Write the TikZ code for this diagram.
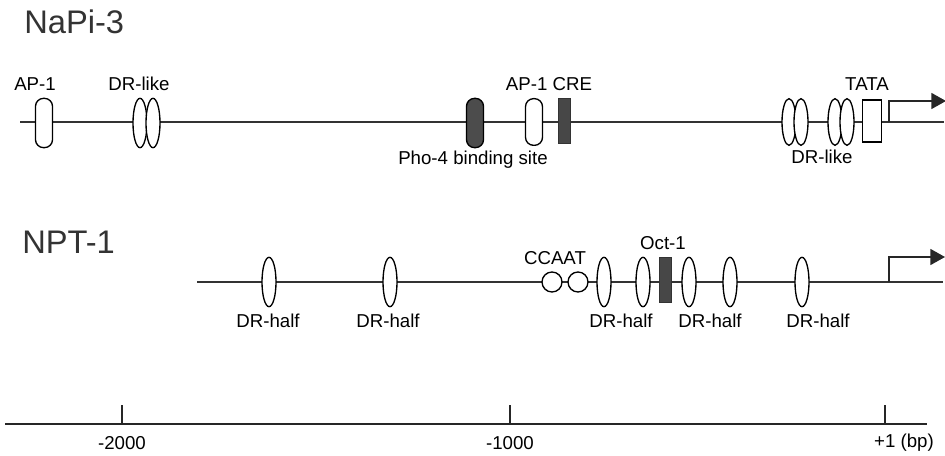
\documentclass[tikz,border=0pt]{standalone}
\usepackage{fontspec}
\setmainfont{Liberation Sans}
\usetikzlibrary{arrows.meta}
\usetikzlibrary{shapes.geometric}

\begin{document}
\begin{tikzpicture}[
        x=0.75pt, y=-0.75pt,
        >=Latex,
        every node/.style={font=\fontsize{14}{16}\selectfont, inner sep=0pt},
        genename/.style={font=\fontsize{24.5}{28}\selectfont, anchor=west, text=black!80},
        dna/.style={draw=black!80, line width=1.5pt},
        roundsite/.style={
            draw=black, line width=1pt, fill=white,
            rectangle, rounded corners=6pt,
            minimum width=12.75pt, minimum height=37pt
        },
        phosite/.style={roundsite, fill=black!70},
        boxsite/.style={
            draw=black!80, line width=0.6pt, fill=black!72,
            rectangle, minimum width=9pt, minimum height=34pt
        },
        drsite/.style={
            draw=black, line width=1pt, fill=white,
            ellipse, minimum width=10.5pt, minimum height=37pt
        },
        ccaatsite/.style={
            draw=black, line width=1pt, fill=white,
            circle, minimum size=15pt
        },
        tatasite/.style={
            draw=black, line width=1pt, fill=white,
            rectangle, minimum width=14pt, minimum height=31.5pt
        },
        tss/.style={
            draw=black!85, line width=1.2pt,
            -{Triangle[length=11pt,width=12pt]}
        },
        ruler/.style={draw=black!85, line width=1.2pt}
    ]

    \useasboundingbox (0,0) rectangle (945,456);

    % NaPi-3
    \node[genename] (napi) at (24,22) {NaPi-3};

    \coordinate (NaL) at (20,122);
    \coordinate (NaR) at (944,122);
    \coordinate (NaT) at (889,122);
    \coordinate (NaH) at (889,101);
    \coordinate (NaE) at (946,101);
    \draw[dna] (NaL) -- (NaR);
    \draw[tss] (NaT) -- (NaH) -- (NaE);

    \node[roundsite] (apA) at (44,123) {};
    \node[drsite] (drA1) at (140,123) {};
    \node[drsite] (drA2) at (153,123) {};
    \node[phosite] (pho) at (475,123) {};
    \node[roundsite, minimum height=35pt] (apB) at (534,122) {};
    \node[boxsite] (cre) at (564,121) {};
    \node[drsite, minimum height=35pt] (drB1) at (789,122) {};
    \node[drsite, minimum height=35pt] (drB2) at (801,122) {};
    \node[drsite, minimum height=35pt] (drC1) at (835,122) {};
    \node[drsite, minimum height=35pt] (drC2) at (847,122) {};
    \node[tatasite] (tata) at (872,121) {};

    \node (lapA) at (35,84) {AP-1};
    \node (ldrA) at (139,84) {DR-like};
    \node (lapB) at (549,84) {AP-1 CRE};
    \node (lpho) at (473,160) {Pho-4 binding site};
    \node (ltata) at (867,84) {TATA};
    \node (ldrB) at (822,157) {DR-like};

    % NPT-1
    \node[genename] (npt) at (22,242) {NPT-1};

    \coordinate (NpL) at (197,282);
    \coordinate (NpR) at (943,282);
    \coordinate (NpT) at (889,282);
    \coordinate (NpH) at (889,257);
    \coordinate (NpE) at (945,257);
    \draw[dna] (NpL) -- (NpR);
    \draw[tss] (NpT) -- (NpH) -- (NpE);

    \node[drsite] (dh1) at (269,282) {};
    \node[drsite] (dh2) at (390,282) {};
    \node[ccaatsite] (cc1) at (552,282) {};
    \node[ccaatsite] (cc2) at (578,282) {};
    \node[drsite] (dh3) at (604,282) {};
    \node[drsite] (dh4) at (643,282) {};
    \node[boxsite] (oct) at (665,280) {};
    \node[drsite] (dh5) at (689,282) {};
    \node[drsite] (dh6) at (730,282) {};
    \node[drsite] (dh7) at (802,282) {};

    \node (ldh1) at (268,321) {DR-half};
    \node (ldh2) at (388,321) {DR-half};
    \node (lcc) at (555,258) {CCAAT};
    \node (loct) at (663,243) {Oct-1};
    \node (ldh3) at (621,321) {DR-half};
    \node (ldh4) at (710,321) {DR-half};
    \node (ldh5) at (818,321) {DR-half};

    % scale
    \coordinate (RuL) at (5,424);
    \coordinate (RuR) at (927,424);
    \draw[ruler] (RuL) -- (RuR);
    \foreach \xpos/\nm in {122/ta, 510/tb, 885/tc} {
        \coordinate (\nm) at (\xpos,424);
        \draw[ruler, line width=0.8pt] (\nm) -- ++(0,-19);
    }
    \node (lta) at (122,443) {-2000};
    \node (ltb) at (510,443) {-1000};
    \node (ltc) at (904,443) {+1 (bp)};

\end{tikzpicture}
\end{document}
